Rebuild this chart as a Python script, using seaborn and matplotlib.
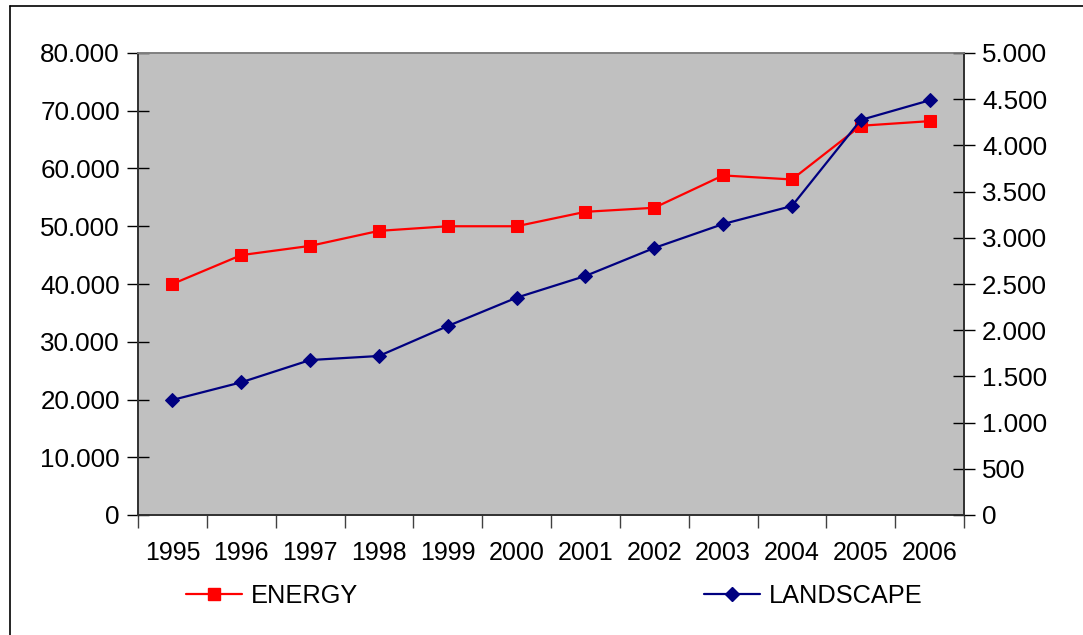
import matplotlib
matplotlib.use('Agg')
import matplotlib.pyplot as plt
from matplotlib.lines import Line2D
from matplotlib.ticker import FuncFormatter, FixedLocator
import pandas as pd
import seaborn as sns

# Data
years = [1995, 1996, 1997, 1998, 1999, 2000, 2001, 2002, 2003, 2004, 2005, 2006]
energy = [40000, 45000, 46600, 49200, 50000, 50000, 52500, 53200, 58800, 58100, 67400, 68200]
landscape = [1245, 1436, 1677, 1721, 2045, 2352, 2587, 2890, 3149, 3344, 4275, 4488]

df = pd.DataFrame({'year': years, 'ENERGY': energy, 'LANDSCAPE': landscape})

sns.set_style('white')
plt.rcParams['font.family'] = ['Liberation Sans', 'DejaVu Sans']
plt.rcParams['text.color'] = 'black'

fig = plt.figure(figsize=(10.83, 6.35), dpi=100)
ax = fig.add_axes([138 / 1083, 1 - 515 / 635, (964 - 138) / 1083, (515 - 53) / 635])
ax.set_facecolor('#C0C0C0')

sns.lineplot(data=df, x='year', y='ENERGY', ax=ax, color='#FF0000', marker='s',
             markersize=8, markeredgecolor='#FF0000', linewidth=1.6, label='ENERGY',
             legend=False)

ax2 = ax.twinx()
sns.lineplot(data=df, x='year', y='LANDSCAPE', ax=ax2, color='#000080', marker='D',
             markersize=7, markeredgecolor='#000080', linewidth=1.6, label='LANDSCAPE',
             legend=False)

thou = FuncFormatter(lambda v, p: '{:,.0f}'.format(v).replace(',', '.'))

ax.set_xlim(1994.5, 2006.5)
ax.set_ylim(0, 80000)
ax2.set_ylim(0, 5000)
ax.set_yticks(range(0, 80001, 10000))
ax2.set_yticks(range(0, 5001, 500))
ax.yaxis.set_major_formatter(thou)
ax2.yaxis.set_major_formatter(thou)

ax.set_xticks(years)
ax.xaxis.set_minor_locator(FixedLocator([y - 0.5 for y in years] + [2006.5]))
ax.tick_params(axis='x', which='major', length=0, pad=19, labelsize=18, labelcolor='black')
ax.tick_params(axis='x', which='minor', length=9, width=1, direction='out', color='#404040', bottom=True)
ax.tick_params(axis='y', direction='inout', length=16, width=1, color='black', labelsize=18.7, pad=5,
               left=True, labelcolor='black')
ax2.tick_params(axis='y', direction='inout', length=16, width=1, color='black', labelsize=18.7, pad=5,
                right=True, labelcolor='black')

ax.set_xlabel('')
ax.set_ylabel('')
ax2.set_ylabel('')

for a in (ax, ax2):
    a.spines['top'].set_color('#808080')
    a.spines['left'].set_color('#303030')
    a.spines['right'].set_color('#303030')
    a.spines['bottom'].set_color('#303030')
    for s in a.spines.values():
        s.set_linewidth(1.2)

# Legend entries placed as in the reference
h1 = Line2D([], [], color='#FF0000', marker='s', markersize=8, linewidth=1.6)
h2 = Line2D([], [], color='#000080', marker='D', markersize=7, linewidth=1.6)
fig.legend(handles=[h1], labels=['ENERGY'], loc='center left', bbox_to_anchor=(186 / 1083, 1 - 596 / 635),
           frameon=False, fontsize=18.3, handlelength=2.2, handletextpad=0.35, borderpad=0, borderaxespad=0)
fig.legend(handles=[h2], labels=['LANDSCAPE'], loc='center left', bbox_to_anchor=(704 / 1083, 1 - 596 / 635),
           frameon=False, fontsize=18.3, handlelength=2.2, handletextpad=0.35, borderpad=0, borderaxespad=0)

# Chart border (top and left visible)
fig.add_artist(Line2D([10 / 1083, 1], [1 - 6 / 635, 1 - 6 / 635], color='black', linewidth=1.2))
fig.add_artist(Line2D([10 / 1083, 10 / 1083], [0, 1 - 6 / 635], color='black', linewidth=1.2))

fig.savefig('out.png', dpi=100)
